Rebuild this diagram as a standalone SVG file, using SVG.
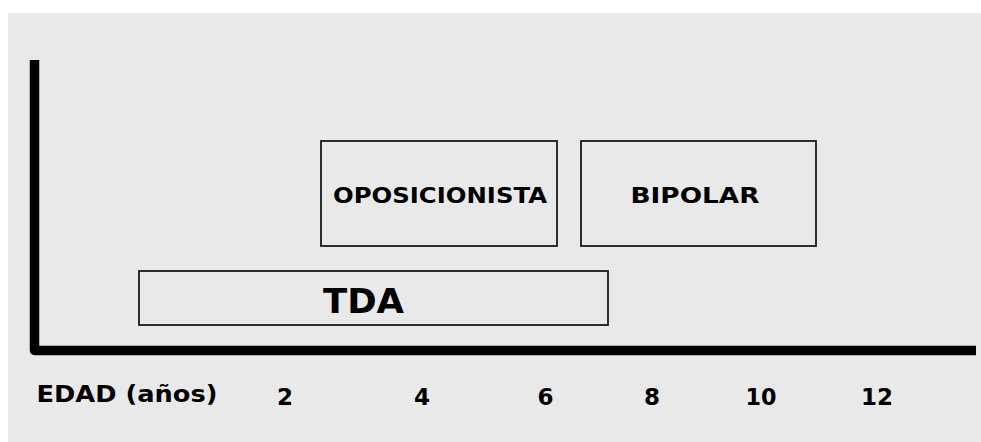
<svg xmlns="http://www.w3.org/2000/svg" width="981" height="442" viewBox="0 0 981 442">
<style>
.bg{fill:#e9e9e9}
.box{fill:#e9e9e9;stroke:#1a1a1a;stroke-width:1.8}
.t{font-family:"DejaVu Sans","Liberation Sans",sans-serif;font-weight:bold;fill:#000;text-anchor:middle}
.axis{fill:none;stroke:#000;stroke-width:9.5;stroke-linejoin:round}
</style>
<rect x="0" y="0" width="981" height="442" fill="#ffffff"/>
<rect class="bg" x="8" y="13" width="973" height="429"/>
<g id="connectors">
<polyline class="axis" points="34.5,60 34.5,350.5 976,350.5"/>
</g>
<g id="node-oposicionista">
<rect class="box" x="321" y="141" width="236" height="105"/>
<text class="t" x="440" y="202.5" font-size="20.5" textLength="214" lengthAdjust="spacingAndGlyphs">OPOSICIONISTA</text>
</g>
<g id="node-bipolar">
<rect class="box" x="581" y="141" width="235" height="105"/>
<text class="t" x="695" y="203" font-size="21" textLength="129" lengthAdjust="spacingAndGlyphs">BIPOLAR</text>
</g>
<g id="node-tda">
<rect class="box" x="139" y="271" width="469" height="54"/>
<text class="t" x="363.5" y="313" font-size="34" textLength="81" lengthAdjust="spacingAndGlyphs">TDA</text>
</g>
<g id="axis-labels">
<text class="t" x="127" y="402" font-size="23" textLength="181" lengthAdjust="spacingAndGlyphs">EDAD (años)</text>
<text class="t" x="285" y="404.5" font-size="23">2</text>
<text class="t" x="422" y="404.5" font-size="23">4</text>
<text class="t" x="545.5" y="404.5" font-size="23">6</text>
<text class="t" x="652" y="404.5" font-size="23">8</text>
<text class="t" x="761" y="404.5" font-size="23" textLength="31" lengthAdjust="spacingAndGlyphs">10</text>
<text class="t" x="877" y="404.5" font-size="23" textLength="32" lengthAdjust="spacingAndGlyphs">12</text>
</g>
</svg>
